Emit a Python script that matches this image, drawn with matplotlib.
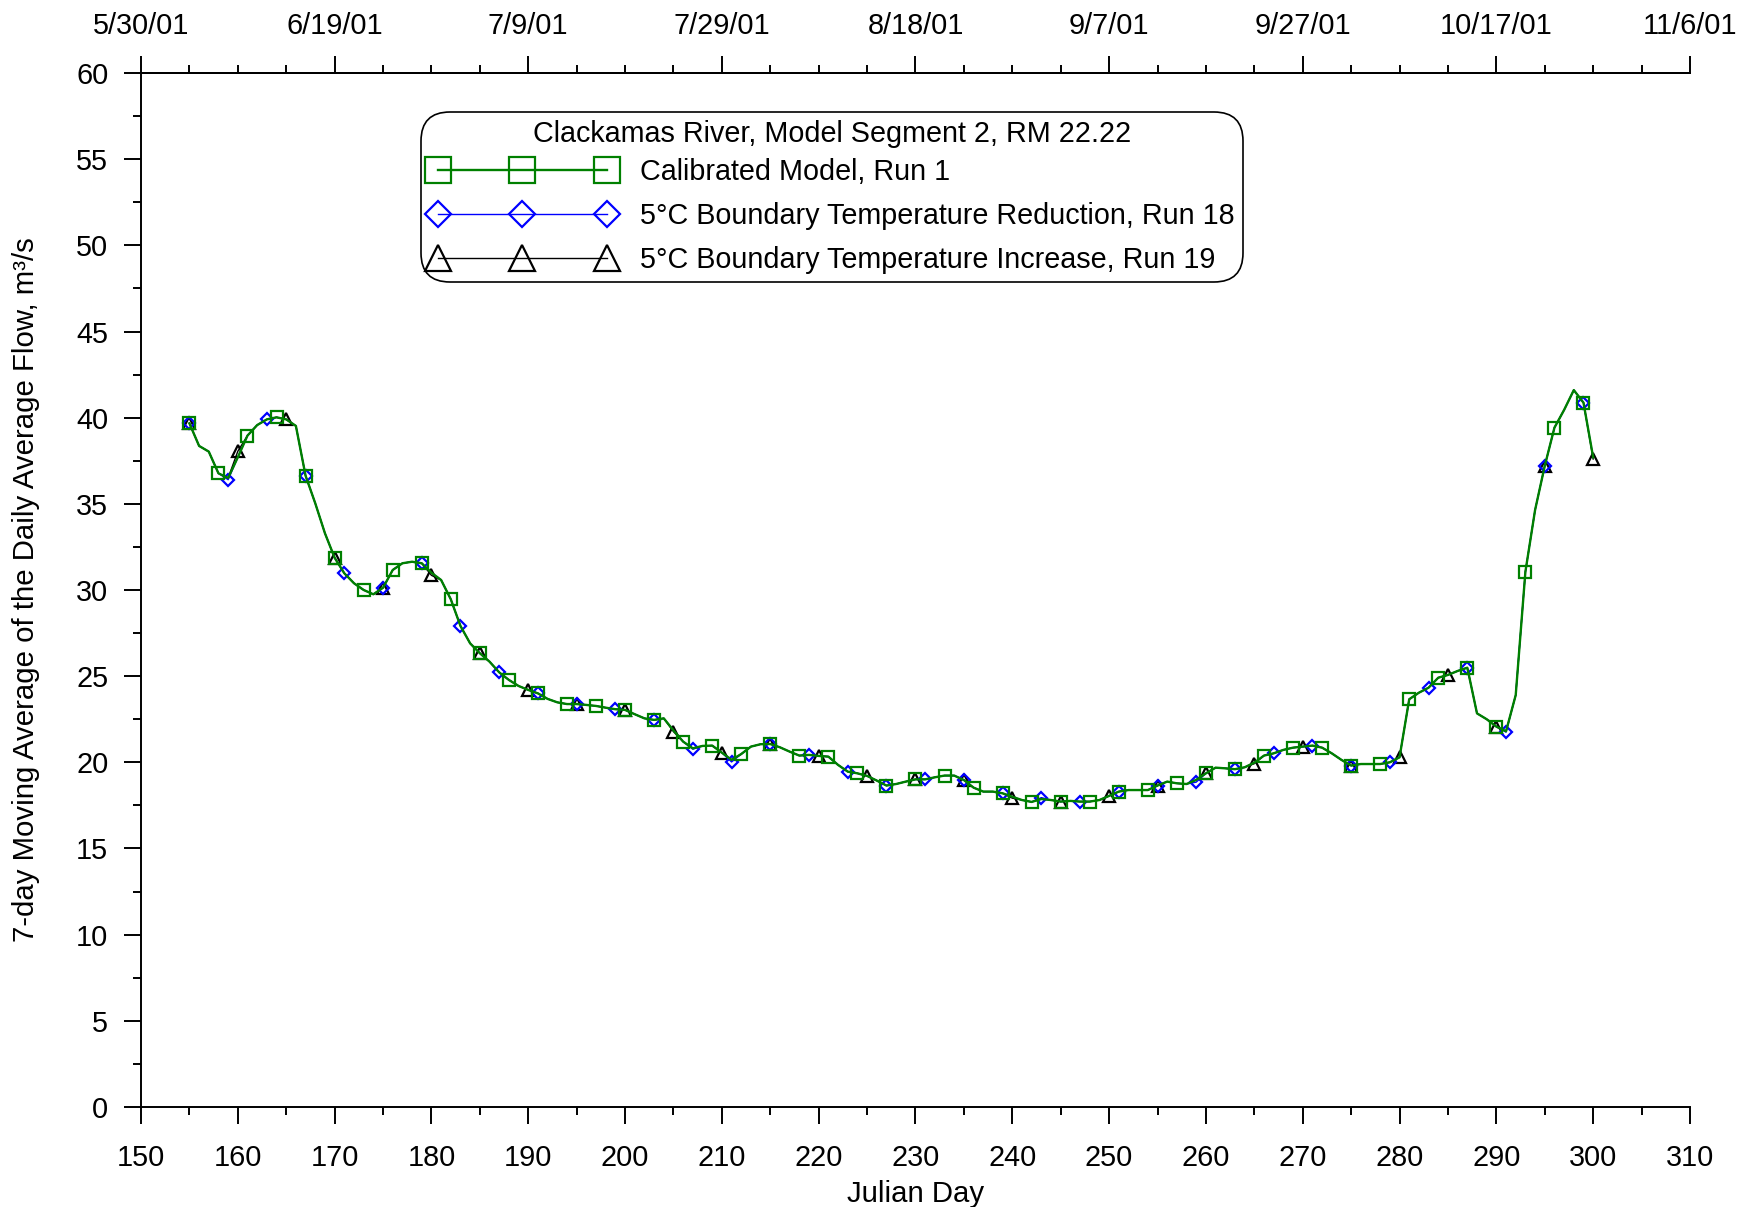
import numpy as np
import matplotlib
matplotlib.use('Agg')
import matplotlib.pyplot as plt
from matplotlib.ticker import MultipleLocator

plt.rcParams['font.family'] = ['Liberation Sans', 'DejaVu Sans']

# ---------------- data ----------------
start_day = 155
run1_flow = [
    39.67, 38.36, 38.03, 36.77, 36.50, 37.70, 38.96, 39.57, 39.90, 40.02,  # 155-164
    39.90, 39.52, 36.63, 35.03, 33.29, 31.87, 30.97, 30.39, 30.00, 29.75,  # 165-174
    30.13, 31.16, 31.55, 31.64, 31.55, 31.00, 30.58, 29.46, 27.91, 26.90,  # 175-184
    26.33, 25.84, 25.22, 24.78, 24.43, 24.20, 24.00, 23.68, 23.48, 23.38,  # 185-194
    23.38, 23.33, 23.27, 23.17, 23.08, 23.04, 22.79, 22.55, 22.46, 22.55,  # 195-204
    21.85, 21.20, 20.81, 20.95, 20.97, 20.56, 20.14, 20.48, 20.91, 21.05,  # 205-214
    21.06, 20.87, 20.62, 20.39, 20.43, 20.37, 20.33, 19.85, 19.46, 19.36,  # 215-224
    19.21, 18.94, 18.65, 18.74, 18.88, 19.01, 19.01, 19.13, 19.23, 19.23,  # 225-234
    18.97, 18.53, 18.30, 18.30, 18.20, 18.00, 17.81, 17.70, 17.87, 17.81,  # 235-244
    17.72, 17.76, 17.72, 17.72, 17.81, 18.05, 18.30, 18.39, 18.39, 18.39,  # 245-254
    18.65, 18.88, 18.78, 18.74, 18.98, 19.36, 19.69, 19.65, 19.60, 19.71,  # 255-264
    19.98, 20.39, 20.52, 20.72, 20.85, 20.91, 20.97, 20.85, 20.52, 20.14,  # 265-274
    19.81, 19.90, 19.90, 19.90, 20.00, 20.29, 23.66, 24.04, 24.33, 24.91,  # 275-284
    25.07, 25.30, 25.49, 22.84, 22.50, 22.07, 21.80, 23.90, 31.06, 34.64,  # 285-294
    37.20, 39.42, 40.45, 41.60, 40.87, 37.70,                              # 295-300
]
# days where the other runs differ visibly from Run 1
run18_changes = {159: 36.40, 207: 20.76, 211: 20.02, 243: 17.95, 259: 18.85, 291: 21.75}
run19_changes = {160: 38.05, 180: 30.85, 205: 21.78, 240: 17.92, 265: 19.92, 300: 37.60}

top_tick_days = [150, 170, 190, 210, 230, 250, 270, 290, 310]
top_labels = ['5/30/01', '6/19/01', '7/9/01', '7/29/01', '8/18/01',
              '9/7/01', '9/27/01', '10/17/01', '11/6/01']

legend_title = 'Clackamas River, Model Segment 2, RM 22.22'
labels = ['Calibrated Model, Run 1',
          '5\u00b0C Boundary Temperature Reduction, Run 18',
          '5\u00b0C Boundary Temperature Increase, Run 19']

days = np.arange(start_day, start_day + len(run1_flow))
run18_flow = list(run1_flow)
for d, v in run18_changes.items():
    run18_flow[d - start_day] = v
run19_flow = list(run1_flow)
for d, v in run19_changes.items():
    run19_flow[d - start_day] = v

FS = 20.8
LFS = 20.7

# ---------------- figure ----------------
fig = plt.figure(figsize=(17.56, 12.07), dpi=100)
ax = fig.add_axes([0.0803, 0.0829, 0.8821, 0.8566])

green = '#008000'
l19, = ax.plot(days, run19_flow, color='black', lw=1.0, marker='^', ms=8.6,
               mfc='none', mec='black', mew=1.6, markevery=5, zorder=2)
l18, = ax.plot(days, run18_flow, color='#0000ff', lw=1.0, marker='D', ms=5.8,
               mfc='none', mec='#0000ff', mew=1.6, markevery=4, zorder=3)
l1, = ax.plot(days, run1_flow, color=green, lw=1.7, marker='s', ms=8.2,
              mfc='none', mec=green, mew=1.6, markevery=3, zorder=4)

ax.set_xlim(150, 310)
ax.set_ylim(0, 60)
ax.xaxis.set_major_locator(MultipleLocator(10))
ax.xaxis.set_minor_locator(MultipleLocator(5))
ax.yaxis.set_major_locator(MultipleLocator(5))
ax.yaxis.set_minor_locator(MultipleLocator(2.5))
ax.tick_params(which='major', direction='out', length=12.5, width=1.4,
               labelsize=FS, pad=11)
ax.tick_params(axis='x', which='major', pad=14)
ax.tick_params(which='minor', direction='out', length=6, width=1.4)
ax.tick_params(axis='x', which='both', top=False)
ax.spines['right'].set_visible(False)
for s in ['left', 'bottom', 'top']:
    ax.spines[s].set_linewidth(1.4)

secax = ax.secondary_xaxis('top')
secax.set_xticks(top_tick_days, labels=top_labels)
secax.xaxis.set_minor_locator(MultipleLocator(5))
secax.tick_params(which='major', direction='out', length=12.5, width=1.4,
                  labelsize=FS, pad=11)
secax.tick_params(which='minor', direction='out', length=6, width=1.4)
secax.spines['top'].set_linewidth(1.4)

ax.set_xlabel('Julian Day', fontsize=21.2)
ax.xaxis.set_label_coords(0.5, -0.0703)
ax.set_ylabel('7-day Moving Average of the Daily Average Flow, m\u00b3/s', fontsize=21.2)
ax.yaxis.set_label_coords(-0.0650, 0.5)

leg = ax.legend([l1, l18, l19], labels, title=legend_title,
                loc='upper left', bbox_to_anchor=(0.181, 0.962),
                numpoints=3, markerscale=2.2, handlelength=6.47,
                handletextpad=0.85, labelspacing=0.55, fontsize=LFS,
                title_fontsize=LFS, fancybox=True, framealpha=1,
                edgecolor='black', borderpad=0.28, borderaxespad=0)
leg._legend_box.sep = 7.0
leg.get_frame().set_linewidth(1.2)
leg.get_frame().set_boxstyle('round', pad=0, rounding_size=1.0)

fig.savefig('out.png', dpi=100)
